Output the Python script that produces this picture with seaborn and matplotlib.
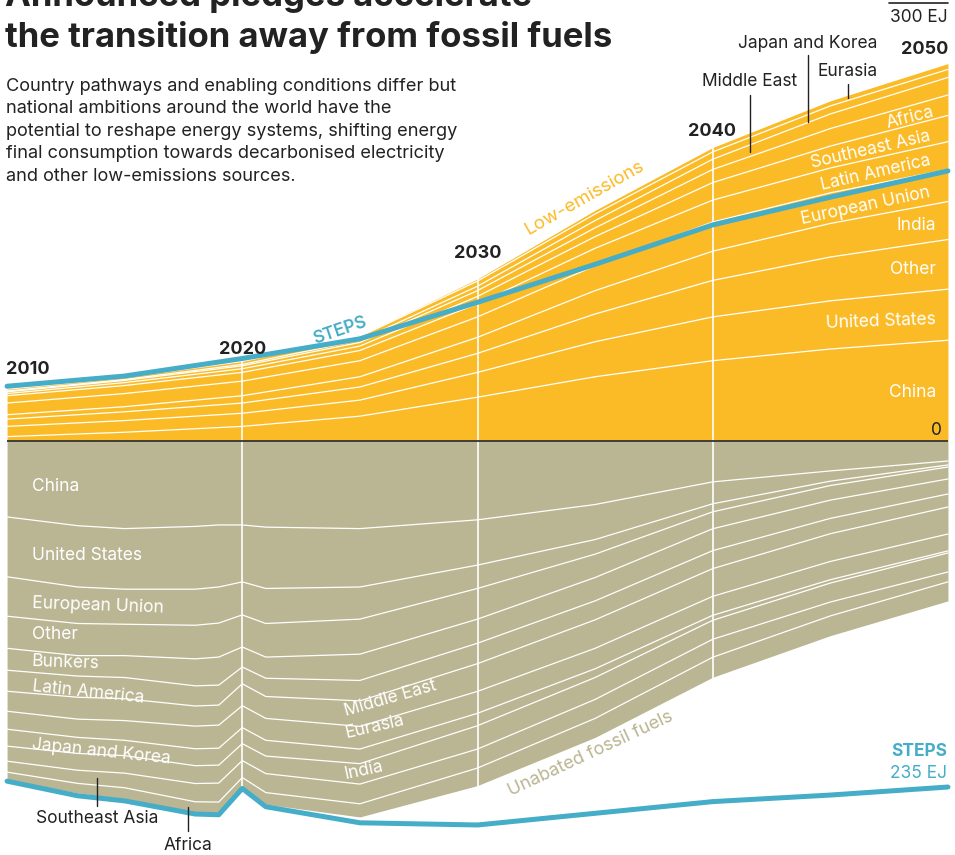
import matplotlib.pyplot as plt
import numpy as np
import pandas as pd
import seaborn as sns
from matplotlib.lines import Line2D

W, H = 955, 855

YELLOW = "#FBBB27"
KHAKI = "#BAB592"
BLUE = "#45ADC7"
DARK = "#222222"
GREY = "#333333"

# Low-emissions final consumption by region, EJ (stacked upwards from zero)
low_years = [2010, 2015, 2020, 2025, 2030, 2035, 2040, 2045, 2050]
low_china = [3, 6, 10, 17, 30, 44, 55, 63, 69]
low_us = [7, 8, 9, 11, 17, 24, 30, 33, 35]
low_other = [5, 6, 7, 9, 13, 19, 25, 30, 34]
low_india = [3, 3.5, 5, 7, 11, 16, 20, 23, 26]
low_eu = [8, 9, 10, 11, 14, 17, 20, 21, 22]
low_latam = [5, 5.5, 6, 7, 9, 12, 15, 17, 19]
low_sea = [1.5, 2, 2.5, 3, 5, 8, 12, 15, 18]
low_africa = [1.2, 1.5, 2, 2.5, 4, 6, 9, 12, 14]
low_me = [0.5, 0.6, 1, 1.5, 3, 5, 7, 10, 12]
low_jk = [1.3, 1.4, 2, 2.5, 3.5, 4.5, 5, 5.5, 5.5]
low_eurasia = [0.5, 0.5, 0.5, 0.5, 1.5, 2.5, 3, 3.5, 4]

# Unabated fossil fuels by region, EJ (stacked downwards from zero)
fossil_years = [2010, 2013, 2015, 2018, 2019, 2020, 2021, 2025, 2030, 2035, 2040, 2045, 2050]
fossil_china = [52, 58, 60, 58.5, 57.5, 57.5, 59, 60, 54, 43.5, 28, 20.5, 13.7]
fossil_us = [41, 42, 41.5, 43, 42.5, 39, 42, 40, 31, 24, 15, 7, 2.7]
fossil_eu = [27, 25, 24, 24.7, 24.7, 22.6, 24, 22, 16, 10, 5.5, 3, 1.4]
fossil_other = [22, 22, 21.5, 23, 23.3, 22, 23, 24, 21, 16, 11.6, 10, 8.2]
fossil_bunkers = [15, 14, 15, 18.5, 19.2, 13.7, 14.5, 18, 16.5, 16, 15, 12.5, 10.3]
fossil_latam = [14.4, 14.5, 14.5, 13.8, 13.7, 11.5, 12.5, 14, 14, 13, 12.3, 10.5, 8.9]
fossil_me = [13.7, 15, 15, 13.8, 13.7, 15, 15, 17.5, 19, 19.5, 19, 19, 18.5]
fossil_eurasia = [12.3, 12.5, 13.5, 15.5, 15.8, 15, 15, 15.5, 15, 14, 13, 12.5, 11.6]
fossil_jk = [11.6, 11, 10.5, 11.6, 11.6, 11, 10.8, 10, 8.5, 6, 3.4, 2.3, 1.4]
fossil_india = [10.3, 11.5, 12, 12.2, 12.3, 11.6, 12, 14, 16, 15, 13, 13, 13]
fossil_sea = [7.5, 9, 10, 12.5, 13, 11.6, 13, 13.5, 13, 13, 12.3, 9.5, 6.8]
fossil_africa = [5.5, 6.5, 7.5, 8, 8, 6.8, 8, 9, 12, 13, 13.7, 13.5, 13]

# STEPS totals, EJ
steps_low = [37.5, 44.5, 56.5, 70, 95, 121, 148, 167, 185]
steps_fossil = [233, 243, 246.5, 255.5, 256, 238, 250.5, 261.5, 263, 255, 247, 242.5, 237]

grid_years = [2020, 2030, 2040]

low_df = pd.DataFrame({
    "China": low_china, "United States": low_us, "Other": low_other,
    "India": low_india, "European Union": low_eu, "Latin America": low_latam,
    "Southeast Asia": low_sea, "Africa": low_africa, "Middle East": low_me,
    "Japan and Korea": low_jk, "Eurasia": low_eurasia,
}, index=low_years)
fossil_df = pd.DataFrame({
    "China": fossil_china, "United States": fossil_us, "European Union": fossil_eu,
    "Other": fossil_other, "Bunkers": fossil_bunkers, "Latin America": fossil_latam,
    "Middle East": fossil_me, "Eurasia": fossil_eurasia, "Japan and Korea": fossil_jk,
    "India": fossil_india, "Southeast Asia": fossil_sea, "Africa": fossil_africa,
}, index=fossil_years)

sns.set_theme(style="white")
plt.rcParams["font.family"] = ["Inter", "DejaVu Sans"]

fig = plt.figure(figsize=(W / 100, H / 100), dpi=100)
ax = fig.add_axes([0, 0, 1, 1])
ax.set_xlim(2009.70, 2050.30)
ax.set_ylim(-283.56, 302.05)
ax.axis("off")

# stacked areas
low_cum = low_df.cumsum(axis=1)
ax.fill_between(low_df.index, 0, low_cum.iloc[:, -1], color=YELLOW, lw=0, zorder=1)
for col in low_cum.columns[:-1]:
    ax.plot(low_df.index, low_cum[col], color="white", lw=0.9, zorder=2)

fossil_cum = -fossil_df.cumsum(axis=1)
ax.fill_between(fossil_df.index, 0, fossil_cum.iloc[:, -1], color=KHAKI, lw=0, zorder=1)
for col in fossil_cum.columns[:-1]:
    ax.plot(fossil_df.index, fossil_cum[col], color="white", lw=0.9, zorder=2)

for yr in grid_years:
    ax.axvline(yr, color="white", lw=1.2, zorder=2.5)

ax.hlines(0, low_years[0], low_years[-1], color=GREY, lw=1.3, zorder=3)

# STEPS lines
sns.lineplot(x=low_years, y=steps_low, ax=ax, color=BLUE, lw=3.6, zorder=4)
sns.lineplot(x=fossil_years, y=[-v for v in steps_fossil], ax=ax, color=BLUE, lw=3.6, zorder=4)


def ftxt(x, y, s, **kw):
    kw.setdefault("zorder", 6)
    return fig.text(x / W, 1 - y / H, s, **kw)


def fline(x0, y0, x1, y1, color=DARK, lw=1.0):
    fig.add_artist(Line2D([x0 / W, x1 / W], [1 - y0 / H, 1 - y1 / H], color=color, lw=lw))


# title and subtitle (first title line is cropped at the top, as in the source)
ftxt(5, 6, "Announced pledges accelerate", fontsize=25, fontweight="bold",
     color=DARK, va="baseline")
ftxt(5, 47, "the transition away from fossil fuels", fontsize=25, fontweight="bold",
     color=DARK, va="baseline")
sub = ("Country pathways and enabling conditions differ but\n"
       "national ambitions around the world have the\n"
       "potential to reshape energy systems, shifting energy\n"
       "final consumption towards decarbonised electricity\n"
       "and other low-emissions sources.")
ftxt(6, 78, sub, fontsize=13.1, color=DARK, va="top", linespacing=1.42)

# scale
fline(889, 3, 948, 3, color=DARK, lw=1.2)
ftxt(948, 17, "300 EJ", fontsize=12.5, color=DARK, ha="right", va="center")
ftxt(942, 430, "0", fontsize=12.5, color=DARK, ha="right", va="center")

# year labels
ftxt(6, 369, "2010", fontsize=13, fontweight="bold", color=DARK, va="center")
ftxt(243, 349, "2020", fontsize=13, fontweight="bold", color=DARK, ha="center", va="center")
ftxt(478, 254, "2030", fontsize=13, fontweight="bold", color=DARK, ha="center", va="center")
ftxt(712, 132, "2040", fontsize=13, fontweight="bold", color=DARK, ha="center", va="center")
ftxt(948, 50, "2050", fontsize=13, fontweight="bold", color=DARK, ha="right", va="center")

# upper region labels
lab = dict(fontsize=12.5, color="white", va="center", rotation_mode="anchor")
ftxt(936, 392, "China", ha="right", **lab)
ftxt(936, 320, "United States", ha="right", rotation=2, **lab)
ftxt(936, 270, "Other", ha="right", **lab)
ftxt(936, 226, "India", ha="right", **lab)
ftxt(866, 206, "European Union", ha="center", rotation=12, **lab)
ftxt(876, 173, "Latin America", ha="center", rotation=13, **lab)
ftxt(871, 150, "Southeast Asia", ha="center", rotation=13, **lab)
ftxt(910, 118, "Africa", ha="center", rotation=14, **lab)

# upper pointers
ann = dict(fontsize=12.5, color=DARK, ha="center", va="center")
ftxt(808, 43, "Japan and Korea", **ann)
ftxt(750, 82, "Middle East", **ann)
ftxt(848, 72, "Eurasia", **ann)
fline(750, 95, 750, 152)
fline(808, 55, 808, 122)
fline(848, 84, 848, 98)

ftxt(585, 198, "Low-emissions", fontsize=13.5, color=YELLOW, ha="center", va="center",
     rotation=29.5, rotation_mode="anchor")
ftxt(340, 331, "STEPS", fontsize=12.5, fontweight="semibold", color=BLUE, ha="center",
     va="center", rotation=19, rotation_mode="anchor")

# lower region labels
ftxt(32, 486, "China", ha="left", **lab)
ftxt(32, 555, "United States", ha="left", **lab)
ftxt(32, 604, "European Union", ha="left", rotation=-2, **lab)
ftxt(32, 634, "Other", ha="left", **lab)
ftxt(32, 662, "Bunkers", ha="left", rotation=-2, **lab)
ftxt(32, 687, "Latin America", ha="left", rotation=-6, **lab)
ftxt(32, 745, "Japan and Korea", ha="left", rotation=-6, **lab)
ftxt(345, 712, "Middle East", ha="left", rotation=16, **lab)
ftxt(345, 734, "Eurasia", ha="left", rotation=13, **lab)
ftxt(345, 775, "India", ha="left", rotation=12, **lab)

ftxt(97, 818, "Southeast Asia", **ann)
ftxt(188, 845, "Africa", **ann)
fline(97, 778, 97, 806)
fline(188, 807, 188, 831)

ftxt(591, 754, "Unabated fossil fuels", fontsize=13, color=KHAKI, ha="center", va="center",
     rotation=25, rotation_mode="anchor")
ftxt(947, 751, "STEPS", fontsize=12.5, fontweight="bold", color=BLUE, ha="right", va="center")
ftxt(947, 773, "235 EJ", fontsize=12.5, color=BLUE, ha="right", va="center")

fig.savefig("out.png", dpi=100)
